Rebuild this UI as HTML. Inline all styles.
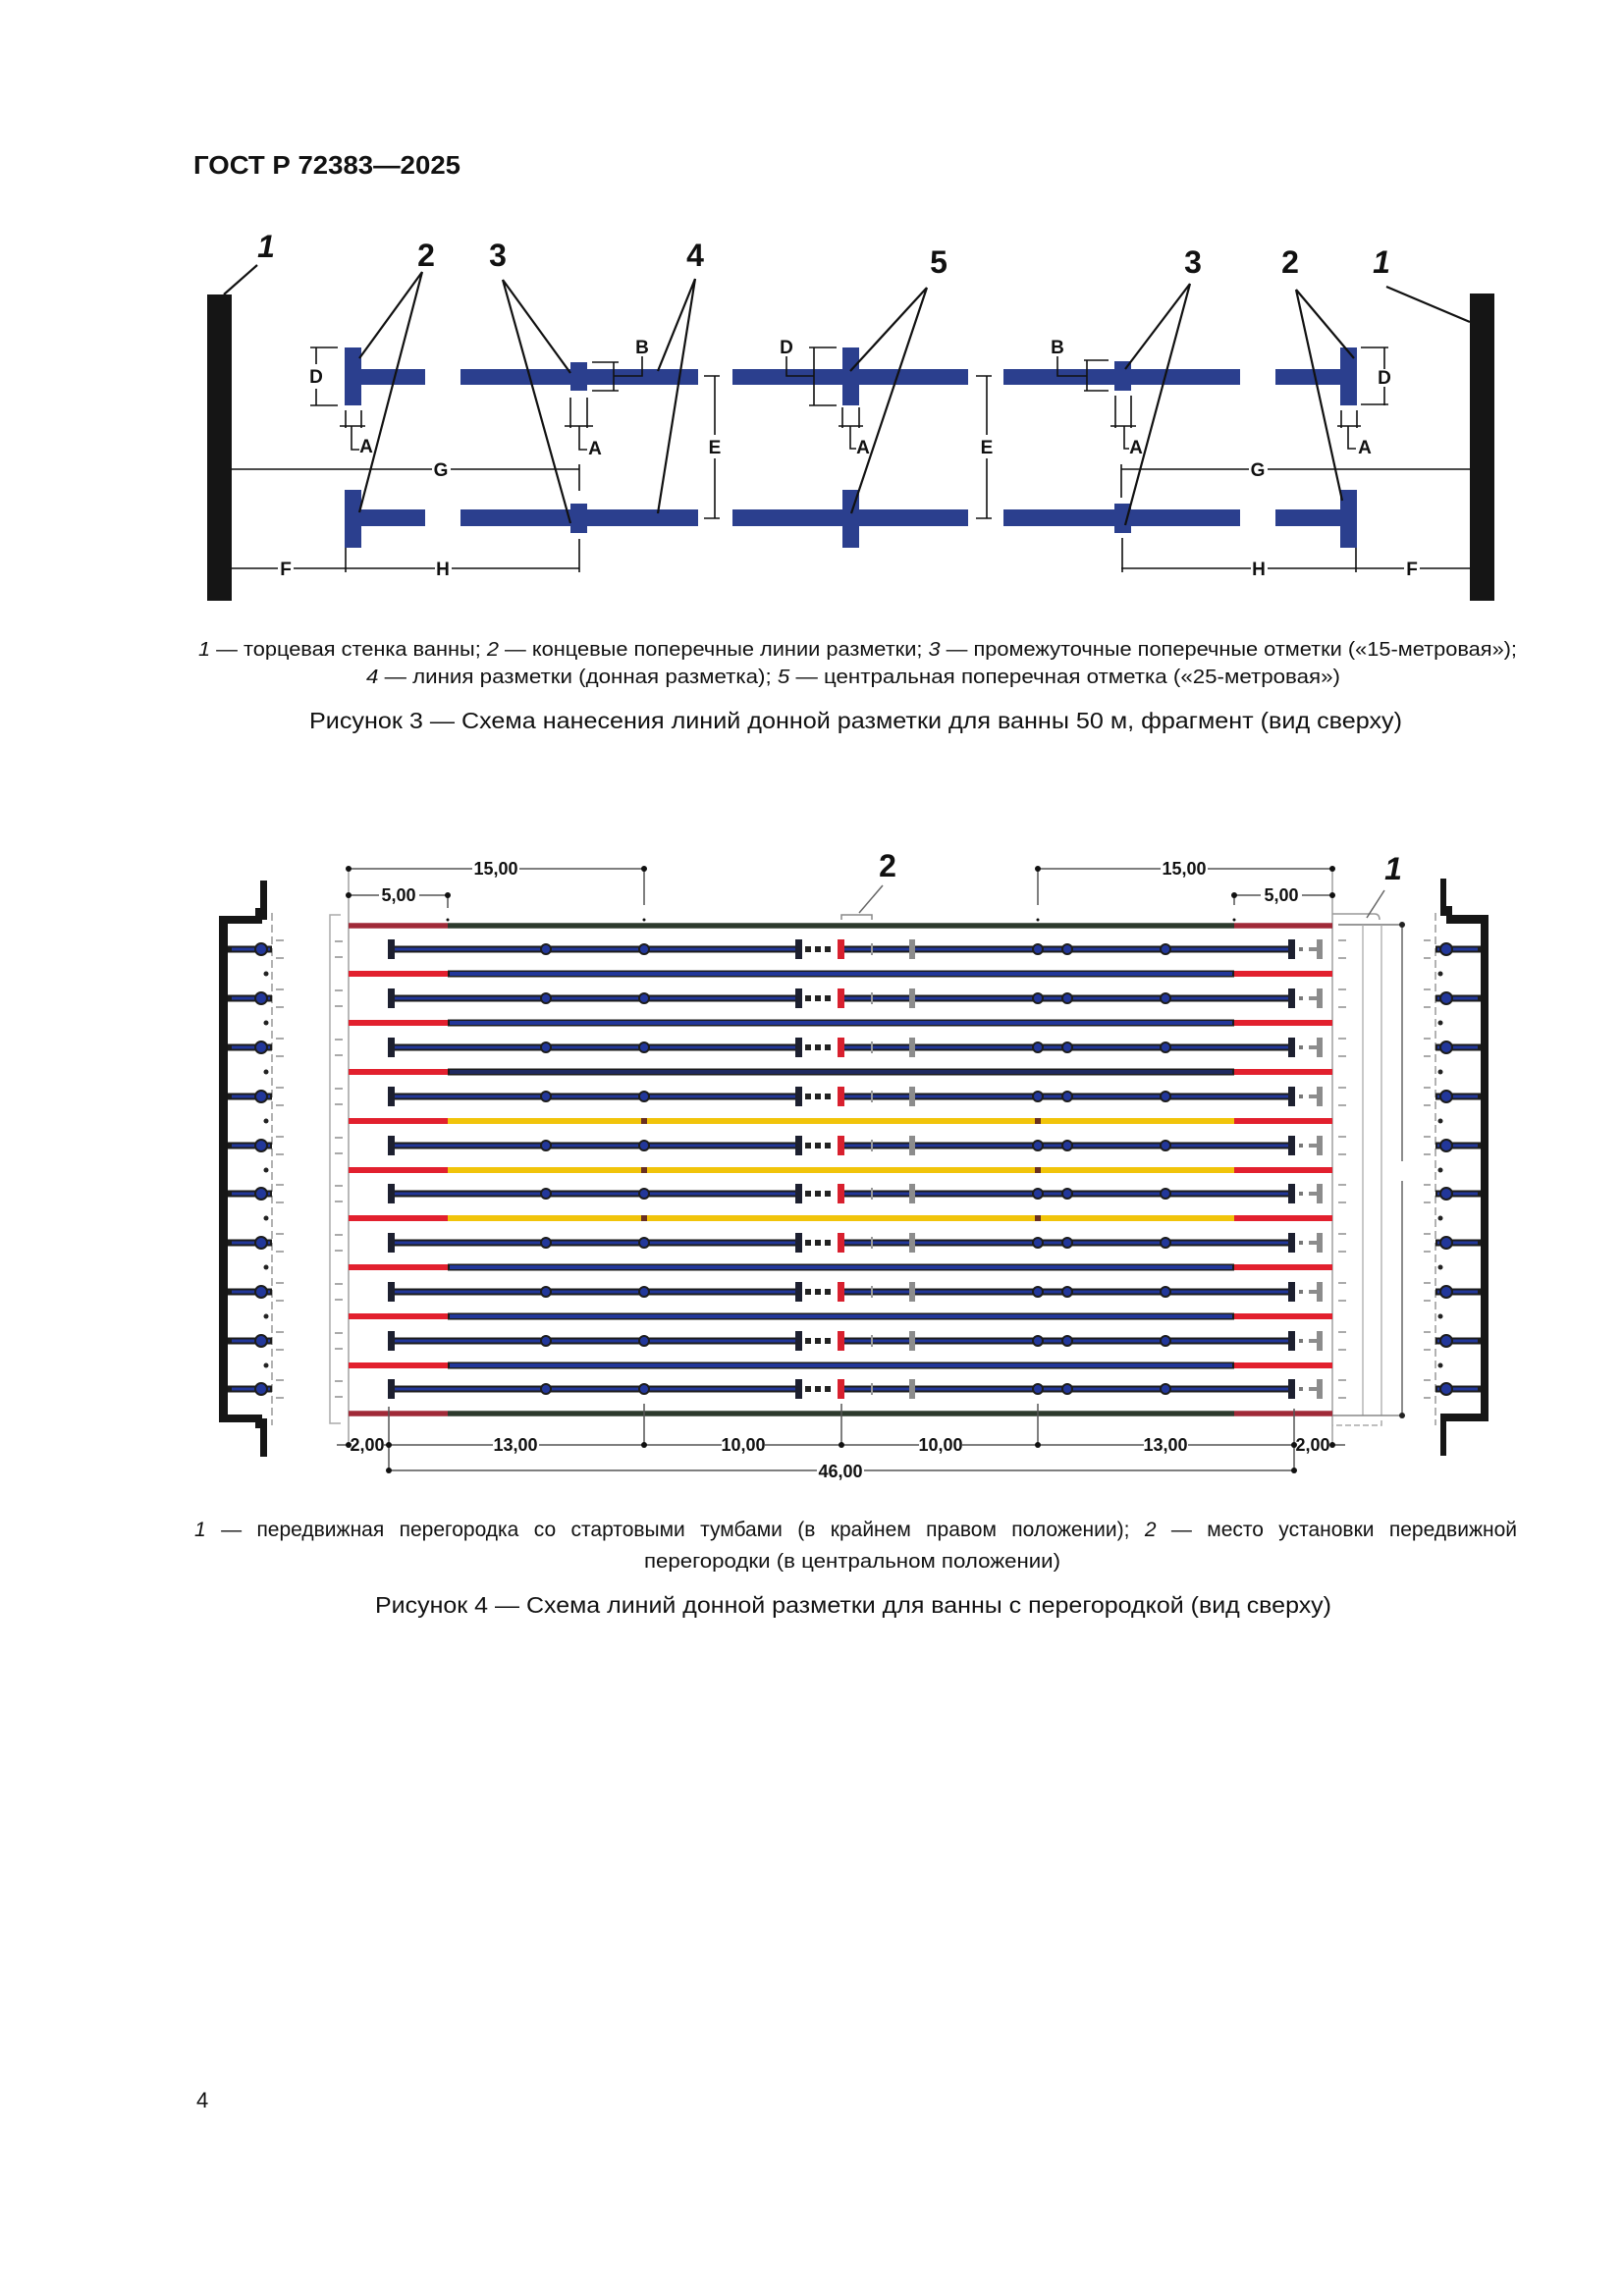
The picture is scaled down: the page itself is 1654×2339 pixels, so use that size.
<!DOCTYPE html>
<html><head><meta charset="utf-8">
<style>
body{margin:0;background:#fff;}
#p{position:relative;width:1654px;height:2339px;overflow:hidden;background:#fff;font-family:"Liberation Sans",Arial,sans-serif;}
svg{position:absolute;left:0;top:0;}
.j{position:absolute;left:198px;width:1347px;font-size:21px;line-height:24px;text-align:justify;text-align-last:justify;color:#111;font-family:"Liberation Sans",Arial,sans-serif;}
</style></head>
<body><div id="p">
<svg width="1654" height="2339" viewBox="0 0 1654 2339" xmlns="http://www.w3.org/2000/svg" font-family="Liberation Sans, Arial, sans-serif">
<defs>
<g id="ln">
<path d="M232 0H277M398 0H813M856 0H1315M1462 0H1508" stroke="#1c1c1c" stroke-width="7" fill="none"/>
<path d="M236 0H275M402 0H810M860 0H1312M1464 0H1505" stroke="#22379a" stroke-width="3" fill="none"/>
<rect x="395" y="-10" width="7" height="20" fill="#1d2030"/>
<rect x="810" y="-10" width="7" height="20" fill="#1d2030"/>
<rect x="820" y="-3" width="6" height="6" fill="#222"/>
<rect x="830" y="-3" width="6" height="6" fill="#222"/>
<rect x="840" y="-3" width="6" height="6" fill="#222"/>
<rect x="853" y="-10" width="7" height="20" fill="#d8202e"/>
<line x1="888" y1="-6" x2="888" y2="6" stroke="#999" stroke-width="2"/>
<rect x="926" y="-10" width="6" height="20" fill="#8c8c8c"/>
<rect x="1312" y="-10" width="7" height="20" fill="#1d2030"/>
<rect x="1323" y="-2" width="4" height="4" fill="#777"/>
<path d="M1333 0H1342" stroke="#8c8c8c" stroke-width="4"/>
<rect x="1341" y="-10" width="6" height="20" fill="#8c8c8c"/>
<g fill="#22379a" stroke="#1c1c1c" stroke-width="2">
<circle cx="556" cy="0" r="5"/><circle cx="656" cy="0" r="5"/><circle cx="1057" cy="0" r="5"/><circle cx="1087" cy="0" r="5"/><circle cx="1187" cy="0" r="5"/>
<circle cx="266" cy="0" r="6"/><circle cx="1473" cy="0" r="6"/>
</g>
<path d="M281 -9h8M281 9h8M341 -8h8M341 8h8M1363 -9h8M1363 9h8M1450 -9h7M1450 9h7" stroke="#aaa" stroke-width="2" fill="none"/>
</g>
</defs>
<rect width="1654" height="2339" fill="#fff"/>

<!-- Header -->
<text x="197" y="177" font-size="26" font-weight="bold" textLength="272" lengthAdjust="spacingAndGlyphs" fill="#111">ГОСТ Р 72383—2025</text>

<!-- ===== Figure 3 ===== -->
<rect x="211" y="300" width="25" height="312" fill="#151515"/>
<rect x="1497" y="299" width="25" height="313" fill="#151515"/>
<g fill="#2b3f8e">
<rect x="351" y="354" width="17" height="59"/>
<rect x="368" y="376" width="65" height="16"/>
<rect x="469" y="376" width="242" height="16"/>
<rect x="581" y="369" width="17" height="29"/>
<rect x="746" y="376" width="240" height="16"/>
<rect x="858" y="354" width="17" height="59"/>
<rect x="1022" y="376" width="241" height="16"/>
<rect x="1135" y="368" width="17" height="30"/>
<rect x="1299" y="376" width="66" height="16"/>
<rect x="1365" y="354" width="17" height="59"/>
<rect x="351" y="499" width="17" height="59"/>
<rect x="368" y="519" width="65" height="17"/>
<rect x="469" y="519" width="242" height="17"/>
<rect x="581" y="513" width="17" height="30"/>
<rect x="746" y="519" width="240" height="17"/>
<rect x="858" y="499" width="17" height="59"/>
<rect x="1022" y="519" width="241" height="17"/>
<rect x="1135" y="513" width="17" height="30"/>
<rect x="1299" y="519" width="66" height="17"/>
<rect x="1365" y="499" width="17" height="59"/>
</g>
<g stroke="#111" stroke-width="1.6" fill="none">
<path d="M322 354V371M322 396V413M316 354H344M316 413H344"/>
<path d="M352 418V436M368 418V436M346 434H372M358 434V458H366"/>
<path d="M581 405V436M598 405V436M575 434H604M590 434V458H598"/>
<path d="M858 415V436M875 415V436M854 434H879M866 434V457H872"/>
<path d="M1136 403V436M1152 403V436M1131 434H1157M1145 434V457H1150"/>
<path d="M1366 418V436M1382 418V436M1362 434H1386M1373 434V457H1381"/>
<path d="M654 363V383H625M603 369H630M603 398H630M625 369V398"/>
<path d="M1077 363V383H1107M1104 367H1129M1104 398H1129M1107 367V398"/>
<path d="M801 363V383H829M829 354V413M824 354H852M824 413H852"/>
<path d="M1410 354V376M1410 394V413M1386 354H1414M1386 412H1414"/>
<path d="M728 383V443M728 467V528M717 383H733M717 528H733"/>
<path d="M1005 383V443M1005 467V528M994 383H1010M994 528H1010"/>
<path d="M236 478H440M459 478H590M590 473V500"/>
<path d="M1142 478H1272M1291 478H1497M1142 473V507"/>
<path d="M236 579H283M299 579H443M460 579H590M352 558V583M590 549V583"/>
<path d="M1142 579H1274M1291 579H1430M1446 579H1497M1381 558V583M1143 548V583"/>
</g>
<g stroke="#111" stroke-width="2.2" fill="none">
<path d="M262 270L228 300"/>
<path d="M430 277L366 365M430 277L366 522"/>
<path d="M512 285L581 380M512 285L581 533"/>
<path d="M708 284L670 378M708 284L670 523"/>
<path d="M944 293L866 378M944 293L867 523"/>
<path d="M1212 289L1146 376M1212 289L1146 535"/>
<path d="M1320 295L1379 365M1320 295L1367 510"/>
<path d="M1412 292L1497 328"/>
</g>
<g font-size="19" font-weight="bold" fill="#111" text-anchor="middle">
<text x="322" y="390">D</text>
<text x="373" y="461">A</text>
<text x="606" y="463">A</text>
<text x="879" y="462">A</text>
<text x="1157" y="462">A</text>
<text x="1390" y="462">A</text>
<text x="654" y="360">B</text>
<text x="1077" y="360">B</text>
<text x="801" y="360">D</text>
<text x="1410" y="391">D</text>
<text x="728" y="462">E</text>
<text x="1005" y="462">E</text>
<text x="449" y="485">G</text>
<text x="1281" y="485">G</text>
<text x="291" y="586">F</text>
<text x="451" y="586">H</text>
<text x="1282" y="586">H</text>
<text x="1438" y="586">F</text>
</g>
<g font-size="32" font-weight="bold" fill="#111" text-anchor="middle">
<text x="271" y="262" font-style="italic">1</text>
<text x="434" y="271">2</text>
<text x="507" y="271">3</text>
<text x="708" y="271">4</text>
<text x="956" y="278">5</text>
<text x="1215" y="278">3</text>
<text x="1314" y="278">2</text>
<text x="1407" y="278" font-style="italic">1</text>
</g>
<g font-size="20" fill="#111">
<text x="202" y="668" textLength="1343" lengthAdjust="spacingAndGlyphs"><tspan font-style="italic">1</tspan> — торцевая стенка ванны; <tspan font-style="italic">2</tspan> — концевые поперечные линии разметки; <tspan font-style="italic">3</tspan> — промежуточные поперечные отметки («15-метровая»);</text>
<text x="373" y="696" textLength="992" lengthAdjust="spacingAndGlyphs"><tspan font-style="italic">4</tspan> — линия разметки (донная разметка); <tspan font-style="italic">5</tspan> — центральная поперечная отметка («25-метровая»)</text>
</g>
<text x="315" y="742" font-size="23" fill="#111" textLength="1113" lengthAdjust="spacingAndGlyphs">Рисунок 3 — Схема нанесения линий донной разметки для ванны 50 м, фрагмент (вид сверху)</text>

<!-- ===== Figure 4 ===== -->
<g fill="#161616">
<rect x="223" y="933" width="9" height="515"/>
<rect x="223" y="933" width="44" height="8"/>
<rect x="260" y="925" width="12" height="12"/>
<rect x="265" y="897" width="7" height="36"/>
<rect x="223" y="1441" width="44" height="8"/>
<rect x="260" y="1445" width="12" height="10"/>
<rect x="265" y="1448" width="7" height="36"/>
<rect x="1508" y="932" width="8" height="516"/>
<rect x="1473" y="932" width="43" height="9"/>
<rect x="1467" y="923" width="12" height="10"/>
<rect x="1467" y="895" width="6" height="37"/>
<rect x="1467" y="1440" width="49" height="8"/>
<rect x="1467" y="1447" width="6" height="36"/>
</g>
<g fill="none" stroke="#999" stroke-width="1.5">
<path d="M277 930V1452M1462 930V1452" stroke-dasharray="8 4"/>
<path d="M347 932H336V1450H347" stroke="#aaa"/>
<path d="M355 885V1472M1357 885V1472" stroke="#888" stroke-width="1.2"/>
<path d="M1357 931H1400Q1405 931 1405 937"/>
<path d="M1363 942H1428" stroke="#777"/>
<path d="M1388 942V1442M1407 942V1442" stroke="#aaa" stroke-width="1.3"/>
<path d="M1428 942V1183M1428 1203V1442" stroke="#666"/>
<path d="M1357 1442H1428" stroke="#888"/>
<path d="M1357 1447V1452H1407V1447" stroke="#aaa" stroke-dasharray="6 3"/>
</g>
<circle cx="1428" cy="942" r="3" fill="#222"/>
<circle cx="1428" cy="1442" r="3" fill="#222"/>

<!-- ropes -->
<g fill="none" stroke-linecap="butt">
<path d="M456 943H1257" stroke="#2d3a2d" stroke-width="5.5"/>
<path d="M355 943H456M1257 943H1357" stroke="#a02a38" stroke-width="5.5"/>
<path d="M456 992H1257M456 1042H1257M456 1092H1257M456 1291H1257M456 1341H1257M456 1391H1257" stroke="#1c1c1c" stroke-width="7"/>
<path d="M458 992H1255M458 1042H1255M458 1291H1255M458 1341H1255M458 1391H1255" stroke="#22379a" stroke-width="4"/>
<path d="M458 1092H1255" stroke="#1f2a60" stroke-width="4"/>
<path d="M456 1142H1257M456 1192H1257M456 1241H1257" stroke="#f1c40a" stroke-width="6"/>
<path d="M456 1440H1257" stroke="#2d3a2d" stroke-width="5.5"/>
<path d="M355 1440H456M1257 1440H1357" stroke="#a02a38" stroke-width="5.5"/>
<path d="M355 992H456M355 1042H456M355 1092H456M355 1142H456M355 1192H456M355 1241H456M355 1291H456M355 1341H456M355 1391H456" stroke="#e2202e" stroke-width="6"/>
<path d="M1257 992H1357M1257 1042H1357M1257 1092H1357M1257 1142H1357M1257 1192H1357M1257 1241H1357M1257 1291H1357M1257 1341H1357M1257 1391H1357" stroke="#e2202e" stroke-width="6"/>
</g>
<g fill="#6a3020">
<rect x="653" y="1139" width="6" height="6"/><rect x="1054" y="1139" width="6" height="6"/>
<rect x="653" y="1189" width="6" height="6"/><rect x="1054" y="1189" width="6" height="6"/>
<rect x="653" y="1238" width="6" height="6"/><rect x="1054" y="1238" width="6" height="6"/>
</g>
<g fill="#222">
<circle cx="271" cy="992" r="2.5"/><circle cx="271" cy="1042" r="2.5"/><circle cx="271" cy="1092" r="2.5"/><circle cx="271" cy="1142" r="2.5"/><circle cx="271" cy="1192" r="2.5"/><circle cx="271" cy="1241" r="2.5"/><circle cx="271" cy="1291" r="2.5"/><circle cx="271" cy="1341" r="2.5"/><circle cx="271" cy="1391" r="2.5"/>
<circle cx="1467" cy="992" r="2.5"/><circle cx="1467" cy="1042" r="2.5"/><circle cx="1467" cy="1092" r="2.5"/><circle cx="1467" cy="1142" r="2.5"/><circle cx="1467" cy="1192" r="2.5"/><circle cx="1467" cy="1241" r="2.5"/><circle cx="1467" cy="1291" r="2.5"/><circle cx="1467" cy="1341" r="2.5"/><circle cx="1467" cy="1391" r="2.5"/>
</g>

<!-- lanes -->
<use href="#ln" transform="translate(0,967)"/>
<use href="#ln" transform="translate(0,1017)"/>
<use href="#ln" transform="translate(0,1067)"/>
<use href="#ln" transform="translate(0,1117)"/>
<use href="#ln" transform="translate(0,1167)"/>
<use href="#ln" transform="translate(0,1216)"/>
<use href="#ln" transform="translate(0,1266)"/>
<use href="#ln" transform="translate(0,1316)"/>
<use href="#ln" transform="translate(0,1366)"/>
<use href="#ln" transform="translate(0,1415)"/>

<!-- top dims -->
<g fill="none" stroke="#555" stroke-width="1.5">
<path d="M355 885H481M529 885H656M355 912H386M427 912H456"/>
<path d="M1057 885H1182M1230 885H1357M1257 912H1284M1326 912H1357"/>
<path d="M456 912V925M656 885V922M1057 885V922M1257 912V922"/>
<path d="M899 902L875 930" stroke="#666"/>
<path d="M857 937V932H888V937" stroke="#888"/>
<path d="M1410 907L1392 935" stroke="#666"/>
</g>
<g fill="#111">
<circle cx="355" cy="885" r="3"/><circle cx="656" cy="885" r="3"/><circle cx="355" cy="912" r="3"/><circle cx="456" cy="912" r="3"/>
<circle cx="1057" cy="885" r="3"/><circle cx="1357" cy="885" r="3"/><circle cx="1257" cy="912" r="3"/><circle cx="1357" cy="912" r="3"/>
<circle cx="456" cy="937" r="1.5"/><circle cx="656" cy="937" r="1.5"/><circle cx="1057" cy="937" r="1.5"/><circle cx="1257" cy="937" r="1.5"/>
</g>
<g font-size="18" font-weight="bold" fill="#111" text-anchor="middle">
<text x="505" y="891">15,00</text>
<text x="406" y="918">5,00</text>
<text x="1206" y="891">15,00</text>
<text x="1305" y="918">5,00</text>
</g>
<g font-size="32" font-weight="bold" fill="#111" text-anchor="middle">
<text x="904" y="893">2</text>
<text x="1419" y="896" font-style="italic">1</text>
</g>

<!-- bottom dims -->
<g fill="none" stroke="#555" stroke-width="1.5">
<path d="M343 1472H357M391 1472H502M549 1472H735M779 1472H936M980 1472H1165M1210 1472H1319M1355 1472H1370"/>
<path d="M396 1498H832M880 1498H1318"/>
<path d="M396 1433V1498M656 1430V1472M857 1430V1472M1057 1430V1472M1318 1435V1498"/>
</g>
<g fill="#111">
<circle cx="355" cy="1472" r="3"/><circle cx="396" cy="1472" r="3"/><circle cx="656" cy="1472" r="3"/><circle cx="857" cy="1472" r="3"/><circle cx="1057" cy="1472" r="3"/><circle cx="1318" cy="1472" r="3"/><circle cx="1357" cy="1472" r="3"/>
<circle cx="396" cy="1498" r="3"/><circle cx="1318" cy="1498" r="3"/>
</g>
<g font-size="18" font-weight="bold" fill="#111" text-anchor="middle">
<text x="374" y="1478">2,00</text>
<text x="525" y="1478">13,00</text>
<text x="757" y="1478">10,00</text>
<text x="958" y="1478">10,00</text>
<text x="1187" y="1478">13,00</text>
<text x="1337" y="1478">2,00</text>
<text x="856" y="1505">46,00</text>
</g>

<text x="656" y="1597" font-size="20" fill="#111" textLength="424" lengthAdjust="spacingAndGlyphs">перегородки (в центральном положении)</text>
<text x="382" y="1643" font-size="23" fill="#111" textLength="974" lengthAdjust="spacingAndGlyphs">Рисунок 4 — Схема линий донной разметки для ванны с перегородкой (вид сверху)</text>

<text x="200" y="2147" font-size="22" fill="#111">4</text>
</svg>
<div class="j" style="top:1547px"><i>1</i> — передвижная перегородка со стартовыми тумбами (в крайнем правом положении); <i>2</i> — место установки передвижной</div>
</div></body></html>
